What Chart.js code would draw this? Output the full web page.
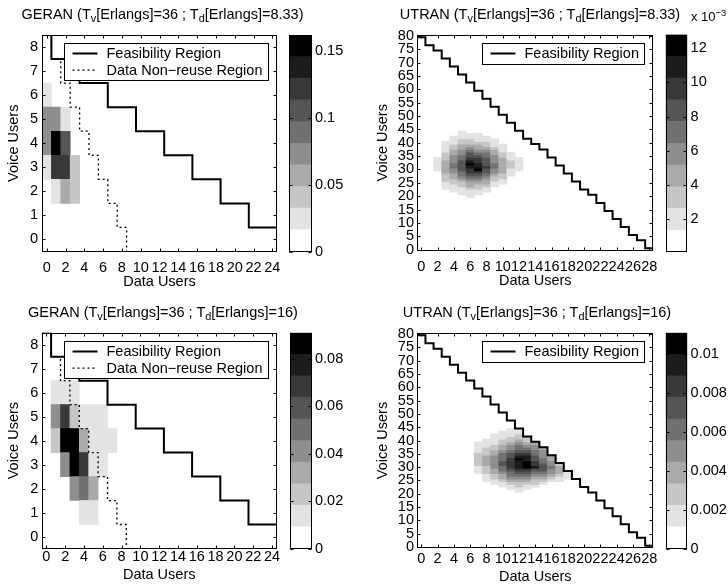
<!DOCTYPE html>
<html>
<head>
<meta charset="utf-8">
<title>GERAN / UTRAN occupancy</title>
<script src="https://cdn.jsdelivr.net/npm/chart.js@4.4.1/dist/chart.umd.min.js"></script>
<style>
  html, body { margin: 0; padding: 0; background: #fff; }
  #fig { position: relative; width: 728px; height: 587px; overflow: hidden;
         font-family: "Liberation Sans", Arial, Helvetica, sans-serif; color: #000; }
  #fig canvas { position: absolute; }
  .ttl { position: absolute; font-size: 14.5px; line-height: 16px; white-space: nowrap;
         transform: translate(-50%, -50%); }
  .ttl sub { font-size: 0.75em; position: relative; top: 0.3em; vertical-align: baseline; line-height: 0; }
  .exp { position: absolute; font-size: 13px; line-height: 16px; white-space: nowrap; }
  .exp sup { font-size: 0.72em; position: relative; top: -0.5em; vertical-align: baseline; line-height: 0; }
</style>
</head>
<body>
<div id="fig">
  <canvas id="geranA" width="285" height="291" style="left:0;top:0;width:285px;height:291px"></canvas>
  <canvas id="cbGeranA" width="79" height="291" style="left:285px;top:0;width:79px;height:291px"></canvas>
  <canvas id="utranA" width="290" height="290" style="left:370px;top:0;width:290px;height:290px"></canvas>
  <canvas id="cbUtranA" width="68" height="290" style="left:660px;top:0;width:68px;height:290px"></canvas>
  <canvas id="geranB" width="285" height="292" style="left:0;top:292px;width:285px;height:292px"></canvas>
  <canvas id="cbGeranB" width="79" height="292" style="left:285px;top:292px;width:79px;height:292px"></canvas>
  <canvas id="utranB" width="290" height="294" style="left:370px;top:292px;width:290px;height:294px"></canvas>
  <canvas id="cbUtranB" width="68" height="294" style="left:660px;top:292px;width:68px;height:294px"></canvas>

  <div class="ttl" style="left:162.5px;top:14px">GERAN (T<sub>v</sub>[Erlangs]=36 ; T<sub>d</sub>[Erlangs]=8.33)</div>
  <div class="ttl" style="left:540px;top:14px">UTRAN (T<sub>v</sub>[Erlangs]=36 ; T<sub>d</sub>[Erlangs]=8.33)</div>
  <div class="ttl" style="left:163px;top:311.7px">GERAN (T<sub>v</sub>[Erlangs]=36 ; T<sub>d</sub>[Erlangs]=16)</div>
  <div class="ttl" style="left:537px;top:311.7px">UTRAN (T<sub>v</sub>[Erlangs]=36 ; T<sub>d</sub>[Erlangs]=16)</div>
  <div class="exp" style="left:691px;top:9px">x 10<sup>−3</sup></div>
</div>

<script>
// grey levels of the colour scale, lowest probability first
const GRAYS = ['#ffffff', '#e3e3e3', '#c6c6c6', '#aaaaaa', '#8e8e8e',
               '#717171', '#555555', '#393939', '#1c1c1c', '#000000'];

// ---- GERAN ----
const geranXTicks = [0, 2, 4, 6, 8, 10, 12, 14, 16, 18, 20, 22, 24];
const geranYTicks = [0, 1, 2, 3, 4, 5, 6, 7, 8];
// largest number of data users allowed for each voice-user count (index = voice users)
const geranFeasibleMax = [24, 21, 18, 15, 12, 9, 6, 3, 0];
const geranNonReuseMax = [8, 7, 6, 5, 4, 3, 2, 1, 0];

// [data users, voice users, probability]
const geranCellsTd833 = [
  [0, 6, 0.025], [0, 5, 0.070], [0, 4, 0.068], [0, 3, 0.028],
  [1, 5, 0.075], [1, 4, 0.160], [1, 3, 0.120], [1, 2, 0.025],
  [2, 5, 0.025], [2, 4, 0.105], [2, 3, 0.125], [2, 2, 0.055],
  [3, 3, 0.040], [3, 2, 0.040]
];
const geranCellsTd16 = [
  [1, 6, 0.016], [2, 6, 0.013], [3, 6, 0.011],
  [1, 5, 0.042], [2, 5, 0.070], [3, 5, 0.022], [4, 5, 0.013], [5, 5, 0.012], [6, 5, 0.010],
  [1, 4, 0.025], [2, 4, 0.089], [3, 4, 0.086], [4, 4, 0.030], [5, 4, 0.017], [6, 4, 0.014], [7, 4, 0.011],
  [2, 3, 0.040], [3, 3, 0.090], [4, 3, 0.068], [5, 3, 0.018], [6, 3, 0.012],
  [3, 2, 0.038], [4, 2, 0.048], [5, 2, 0.030],
  [4, 1, 0.013], [5, 1, 0.012]
];
const geranRangeTd833 = [0, 0.162];
const geranRangeTd16 = [0, 0.091];
const geranCbTicksTd833 = [0, 0.05, 0.1, 0.15];
const geranCbTicksTd16 = [0, 0.02, 0.04, 0.06, 0.08];

// ---- UTRAN ----
const utranXTicks = [0, 2, 4, 6, 8, 10, 12, 14, 16, 18, 20, 22, 24, 26, 28];
const utranYTicks = [0, 5, 10, 15, 20, 25, 30, 35, 40, 45, 50, 55, 60, 65, 70, 75, 80];
// largest number of voice users allowed for each data-user count (index = data users)
const utranFeasibleMax = [79, 76, 74, 71, 68, 65, 62, 59, 56, 53, 50, 47, 44, 41, 39,
                          37, 34, 31, 28, 25, 22, 20, 17, 14, 11, 8, 5, 3, 0];

// probabilities (x 1e-3), one list per data-user column, starting at the given voice count
const utranColsTd833 = [2, 3, 4, 5, 6, 7, 8, 9, 10, 11, 12];
const utranFromTd833 = [30, 23, 22, 21, 20, 21, 22, 24, 25, 28, 30];
const utranProbTd833 = [
  [2.0, 2.0, 2.0, 2.0, 2.0],
  [2.0, 2.0, 2.0, 3.3, 3.3, 3.3, 4.5, 4.5, 4.5, 4.5, 4.5, 3.3, 3.3, 3.3, 2.0, 2.0, 2.0, 2.0],
  [2.0, 2.0, 2.0, 3.3, 3.3, 4.5, 4.5, 5.8, 5.8, 7.1, 7.1, 5.8, 5.8, 5.8, 4.5, 4.5, 3.3, 3.3, 2.0, 2.0, 2.0],
  [2.0, 2.0, 2.0, 3.3, 3.3, 4.5, 5.8, 7.1, 7.1, 8.4, 8.4, 8.4, 8.4, 7.1, 7.1, 5.8, 5.8, 4.5, 4.5, 3.3, 3.3, 2.0, 2.0, 2.0],
  [2.0, 2.0, 2.0, 3.3, 4.5, 4.5, 5.8, 7.1, 8.4, 9.6, 9.6, 10.9, 12.2, 10.9, 9.6, 8.4, 8.4, 7.1, 5.8, 4.5, 3.3, 3.3, 2.0, 2.0],
  [2.0, 2.0, 3.3, 3.3, 4.5, 5.8, 7.1, 8.4, 9.6, 12.2, 10.9, 10.9, 9.6, 9.6, 8.4, 7.1, 5.8, 4.5, 4.5, 3.3, 2.0, 2.0, 2.0],
  [2.0, 2.0, 3.3, 4.5, 4.5, 5.8, 7.1, 8.4, 8.4, 9.6, 8.4, 8.4, 8.4, 7.1, 7.1, 5.8, 4.5, 3.3, 3.3, 2.0, 2.0],
  [2.0, 2.0, 3.3, 3.3, 4.5, 5.8, 5.8, 7.1, 7.1, 5.8, 5.8, 5.8, 4.5, 4.5, 3.3, 2.0, 2.0, 2.0],
  [2.0, 2.0, 3.3, 3.3, 4.5, 4.5, 4.5, 4.5, 4.5, 4.5, 3.3, 3.3, 2.0, 2.0, 2.0],
  [2.0, 2.0, 2.0, 3.3, 3.3, 3.3, 2.0, 2.0, 2.0],
  [2.0, 2.0, 2.0, 2.0, 2.0]
];

const utranColsTd16 = [7, 8, 9, 10, 11, 12, 13, 14, 15, 16, 17, 18];
const utranFromTd16 = [28, 25, 24, 23, 22, 21, 22, 23, 24, 25, 25, 26];
const utranProbTd16 = [
  [1.7, 1.7, 1.7, 2.8, 2.8, 2.8, 2.8, 2.8, 1.7, 1.7, 1.7, 1.7],
  [1.7, 1.7, 1.7, 2.8, 2.8, 2.8, 3.9, 3.9, 3.9, 3.9, 2.8, 2.8, 2.8, 1.7, 1.7, 1.7],
  [1.7, 1.7, 2.8, 2.8, 3.9, 3.9, 5.0, 5.0, 5.0, 5.0, 5.0, 3.9, 3.9, 2.8, 2.8, 1.7, 1.7, 1.7, 1.7],
  [1.7, 1.7, 2.8, 3.9, 3.9, 5.0, 6.1, 6.1, 7.2, 7.2, 6.1, 6.1, 6.1, 5.0, 3.9, 3.9, 2.8, 2.8, 1.7, 1.7, 1.7],
  [1.7, 1.7, 2.8, 3.9, 5.0, 6.1, 6.1, 7.2, 8.3, 8.3, 8.3, 8.3, 7.2, 7.2, 6.1, 5.0, 5.0, 3.9, 2.8, 2.8, 1.7, 1.7, 1.7],
  [1.7, 1.7, 2.8, 2.8, 3.9, 5.0, 6.1, 7.2, 8.3, 9.4, 9.4, 9.4, 10.5, 9.4, 8.3, 7.2, 6.1, 6.1, 5.0, 3.9, 2.8, 2.8, 1.7, 1.7],
  [1.7, 1.7, 2.8, 3.9, 5.0, 6.1, 7.2, 8.3, 10.5, 10.5, 10.5, 9.4, 9.4, 8.3, 7.2, 6.1, 5.0, 3.9, 2.8, 2.8],
  [1.7, 2.8, 2.8, 3.9, 5.0, 6.1, 7.2, 9.4, 8.3, 8.3, 7.2, 7.2, 6.1, 6.1, 5.0, 5.0, 3.9],
  [1.7, 2.8, 3.9, 5.0, 6.1, 7.2, 7.2, 7.2, 6.1, 6.1, 5.0, 5.0, 5.0, 3.9],
  [1.7, 2.8, 3.9, 5.0, 5.0, 6.1, 5.0, 5.0, 3.9, 3.9],
  [1.7, 1.7, 2.8, 3.9, 3.9, 3.9, 2.8],
  [1.7, 1.7, 1.7]
];
const utranRangeTd833 = [0.0001, 0.0128];
const utranRangeTd16 = [0, 0.0111];
const utranCbTicksTd833 = [0.002, 0.004, 0.006, 0.008, 0.010, 0.012];
const utranCbTicksTd16 = [0, 0.002, 0.004, 0.006, 0.008, 0.010];

Chart.defaults.font.family = '"Liberation Sans", Arial, Helvetica, sans-serif';
Chart.defaults.font.size = 14.5;
Chart.defaults.color = '#000';

function shade(p, range) {
  const k = Math.floor((p - range[0]) / (range[1] - range[0]) * GRAYS.length);
  return GRAYS[Math.max(0, Math.min(GRAYS.length - 1, k))];
}

// staircase along the right edge of the allowed cells, one row per voice count
function rowStairs(maxPerRow, xMax) {
  const top = maxPerRow.length - 1;
  const pts = [{ x: -0.5, y: top + 0.5 }];
  for (let v = top; v >= 0; v--) {
    const edge = maxPerRow[v] + 0.5;
    pts.push({ x: edge, y: v + 0.5 });
    if (v > 0 || edge < xMax) pts.push({ x: edge, y: v - 0.5 });
  }
  return pts;
}

// staircase along the top edge of the allowed cells, one column per data count
function colStairs(maxPerCol) {
  const pts = [];
  maxPerCol.forEach((m, d) => pts.push({ x: d - 0.5, y: m + 0.5 }, { x: d + 0.5, y: m + 0.5 }));
  return pts;
}

function columnCells(cols, from, probs) {
  const out = [];
  cols.forEach((d, i) => probs[i].forEach((p, j) => out.push([d, from[i] + j, p / 1000])));
  return out;
}

// axes box with small inward tick marks
const frame = {
  id: 'frame',
  afterDraw(chart) {
    const { ctx, chartArea: a, scales } = chart;
    const L = Math.round(a.left) + 0.5, R = Math.round(a.right) - 0.5;
    const T = Math.round(a.top) + 0.5, B = Math.round(a.bottom) - 0.5;
    ctx.save();
    ctx.strokeStyle = '#000';
    ctx.lineWidth = 1;
    ctx.beginPath();
    if (scales.x.options.display) {
      for (const t of scales.x.ticks) {
        const px = Math.round(scales.x.getPixelForValue(t.value)) + 0.5;
        ctx.moveTo(px, B); ctx.lineTo(px, B - 3);
        ctx.moveTo(px, T); ctx.lineTo(px, T + 3);
      }
    }
    for (const t of scales.y.ticks) {
      const py = Math.round(scales.y.getPixelForValue(t.value)) + 0.5;
      ctx.moveTo(L, py); ctx.lineTo(L + 3, py);
      ctx.moveTo(R, py); ctx.lineTo(R - 3, py);
    }
    ctx.stroke();
    ctx.strokeRect(L, T, R - L, B - T);
    ctx.restore();
  }
};

// boxed legend in the upper right corner of the plot
const boxLegend = {
  id: 'boxLegend',
  afterDraw(chart) {
    const items = chart.data.datasets.filter(d => d.type === 'line');
    const { ctx, chartArea: a } = chart;
    ctx.save();
    ctx.font = '14.5px "Liberation Sans", Arial, Helvetica, sans-serif';
    const textW = Math.max(...items.map(d => ctx.measureText(d.label).width));
    const w = Math.round(8 + 25 + 9 + textW + 6);
    const h = Math.round(20.6 + (items.length - 1) * 16.6);
    const x0 = Math.round(a.right - 9 - w) + 0.5, y0 = Math.round(a.top + 8) + 0.5;
    ctx.fillStyle = '#fff';
    ctx.fillRect(x0, y0, w, h);
    ctx.strokeStyle = '#000';
    ctx.lineWidth = 1;
    ctx.strokeRect(x0, y0, w, h);
    ctx.fillStyle = '#000';
    ctx.textBaseline = 'middle';
    items.forEach((d, i) => {
      const cy = y0 + 10 + i * 16.6;
      ctx.beginPath();
      ctx.setLineDash(d.borderDash || []);
      ctx.lineWidth = d.borderWidth;
      ctx.moveTo(x0 + 8, cy);
      ctx.lineTo(x0 + 33, cy);
      ctx.stroke();
      ctx.setLineDash([]);
      ctx.fillText(d.label, x0 + 42, cy + 0.5);
    });
    ctx.restore();
  }
};

const noGrid = { display: false, drawTicks: false };

function panel(id, o) {
  const lines = o.lines.map(l => ({
    type: 'line', label: l.label, data: l.points,
    borderColor: '#000', borderWidth: l.width, borderDash: l.dash || [],
    pointRadius: 0, fill: false, tension: 0,
    borderCapStyle: 'butt', borderJoinStyle: 'miter', order: 0
  }));
  const heat = {
    type: 'bar', label: 'probability',
    data: o.cells.map(([d, v, p]) => ({ x: d, y: [v - 0.5, v + 0.5], p })),
    backgroundColor: c => (c.raw ? shade(c.raw.p, o.range) : GRAYS[0]),
    borderWidth: 0, barPercentage: 1, categoryPercentage: 1, order: 1
  };
  return new Chart(document.getElementById(id), {
    type: 'bar',
    data: { datasets: [...lines, heat] },
    options: {
      responsive: false, animation: false, events: [],
      layout: { padding: { left: 0, top: o.padTop, right: o.padRight, bottom: 0 } },
      plugins: { legend: { display: false }, tooltip: { enabled: false } },
      scales: {
        x: {
          type: 'linear', min: o.xRange[0], max: o.xRange[1], offset: false,
          grid: noGrid, border: { display: false },
          afterBuildTicks: s => { s.ticks = o.xTicks.map(value => ({ value })); },
          ticks: { autoSkip: false, maxRotation: 0, minRotation: 0, padding: o.xTickPad,
                   callback: v => String(v) },
          title: { display: true, text: 'Data Users', padding: { top: 0, bottom: o.xTitlePad } },
          afterFit: s => { s.height = o.xAxisH; s.paddingLeft = 0; s.paddingRight = 0; }
        },
        y: {
          type: 'linear', min: o.yRange[0], max: o.yRange[1],
          grid: noGrid, border: { display: false },
          afterBuildTicks: s => { s.ticks = o.yTicks.map(value => ({ value })); },
          ticks: { autoSkip: false, padding: o.yTickPad, callback: v => String(v) },
          title: { display: true, text: 'Voice Users', padding: { top: o.yTitlePad, bottom: 0 } },
          afterFit: s => { s.width = o.yAxisW; s.paddingTop = 0; s.paddingBottom = 0; }
        }
      }
    },
    plugins: [frame, boxLegend]
  });
}

function colorbar(id, o) {
  const band = (o.range[1] - o.range[0]) / GRAYS.length;
  return new Chart(document.getElementById(id), {
    type: 'bar',
    data: {
      labels: [''],
      datasets: GRAYS.map((c, i) => ({
        data: [[o.range[0] + i * band, o.range[0] + (i + 1) * band]],
        backgroundColor: c, borderWidth: 0,
        barPercentage: 1, categoryPercentage: 1, grouped: false
      }))
    },
    options: {
      responsive: false, animation: false, events: [],
      layout: { padding: { left: o.padLeft, top: o.padTop, right: 0, bottom: o.padBottom } },
      plugins: { legend: { display: false }, tooltip: { enabled: false } },
      scales: {
        x: { display: false },
        y: {
          position: 'right', min: o.range[0], max: o.range[1],
          grid: noGrid, border: { display: false },
          afterBuildTicks: s => { s.ticks = o.ticks.map(value => ({ value })); },
          ticks: { autoSkip: false, padding: 3.3, callback: o.format },
          afterFit: s => { s.width = o.axisW; s.paddingTop = 0; s.paddingBottom = 0; }
        }
      }
    },
    plugins: [frame]
  });
}

const geranLines = [
  { label: 'Feasibility Region', points: rowStairs(geranFeasibleMax, 24.5), width: 2 },
  { label: 'Data Non\u2212reuse Region', points: rowStairs(geranNonReuseMax, 24.5), width: 1.3, dash: [2, 3] }
];
const utranLines = [
  { label: 'Feasibility Region', points: colStairs(utranFeasibleMax), width: 2 }
];
const plainNum = v => String(+v.toFixed(4));

panel('geranA', {
  cells: geranCellsTd833, range: geranRangeTd833, lines: geranLines,
  xRange: [-0.5, 24.5], yRange: [-0.5, 8.5], xTicks: geranXTicks, yTicks: geranYTicks,
  padTop: 35, padRight: 8, yAxisW: 42, xAxisH: 39.5,
  xTickPad: 7.5, xTitlePad: 0, yTickPad: 4, yTitlePad: 5.3
});
colorbar('cbGeranA', {
  range: geranRangeTd833, ticks: geranCbTicksTd833, format: plainNum,
  padLeft: 4, padTop: 35, padBottom: 39.5, axisW: 52.3
});

panel('utranA', {
  cells: columnCells(utranColsTd833, utranFromTd833, utranProbTd833), range: utranRangeTd833,
  lines: utranLines,
  xRange: [-0.5, 28.5], yRange: [-0.5, 80.5], xTicks: utranXTicks, yTicks: utranYTicks,
  padTop: 34.5, padRight: 6.7, yAxisW: 47.3, xAxisH: 39,
  xTickPad: 7.5, xTitlePad: 0, yTickPad: 3.3, yTitlePad: 4.5
});
colorbar('cbUtranA', {
  range: utranRangeTd833, ticks: utranCbTicksTd833, format: v => String(Math.round(v * 1000)),
  padLeft: 5.7, padTop: 34.5, padBottom: 38, axisW: 40.7
});

panel('geranB', {
  cells: geranCellsTd16, range: geranRangeTd16, lines: geranLines,
  xRange: [-0.5, 24.5], yRange: [-0.5, 8.5], xTicks: geranXTicks, yTicks: geranYTicks,
  padTop: 40.7, padRight: 8.3, yAxisW: 41.7, xAxisH: 35.5,
  xTickPad: 0, xTitlePad: 0.3, yTickPad: 3.4, yTitlePad: 5.5
});
colorbar('cbGeranB', {
  range: geranRangeTd16, ticks: geranCbTicksTd16, format: plainNum,
  padLeft: 5, padTop: 40.7, padBottom: 35.5, axisW: 52.3
});

panel('utranB', {
  cells: columnCells(utranColsTd16, utranFromTd16, utranProbTd16), range: utranRangeTd16,
  lines: utranLines,
  xRange: [-0.5, 28.5], yRange: [-0.5, 80.5], xTicks: utranXTicks, yTicks: utranYTicks,
  padTop: 40.7, padRight: 6.7, yAxisW: 47.3, xAxisH: 37.7,
  xTickPad: 2.3, xTitlePad: 0.6, yTickPad: 3.3, yTitlePad: 4.3
});
colorbar('cbUtranB', {
  range: utranRangeTd16, ticks: utranCbTicksTd16, format: plainNum,
  padLeft: 5.7, padTop: 40.7, padBottom: 37.5, axisW: 40.7
});
</script>
</body>
</html>
